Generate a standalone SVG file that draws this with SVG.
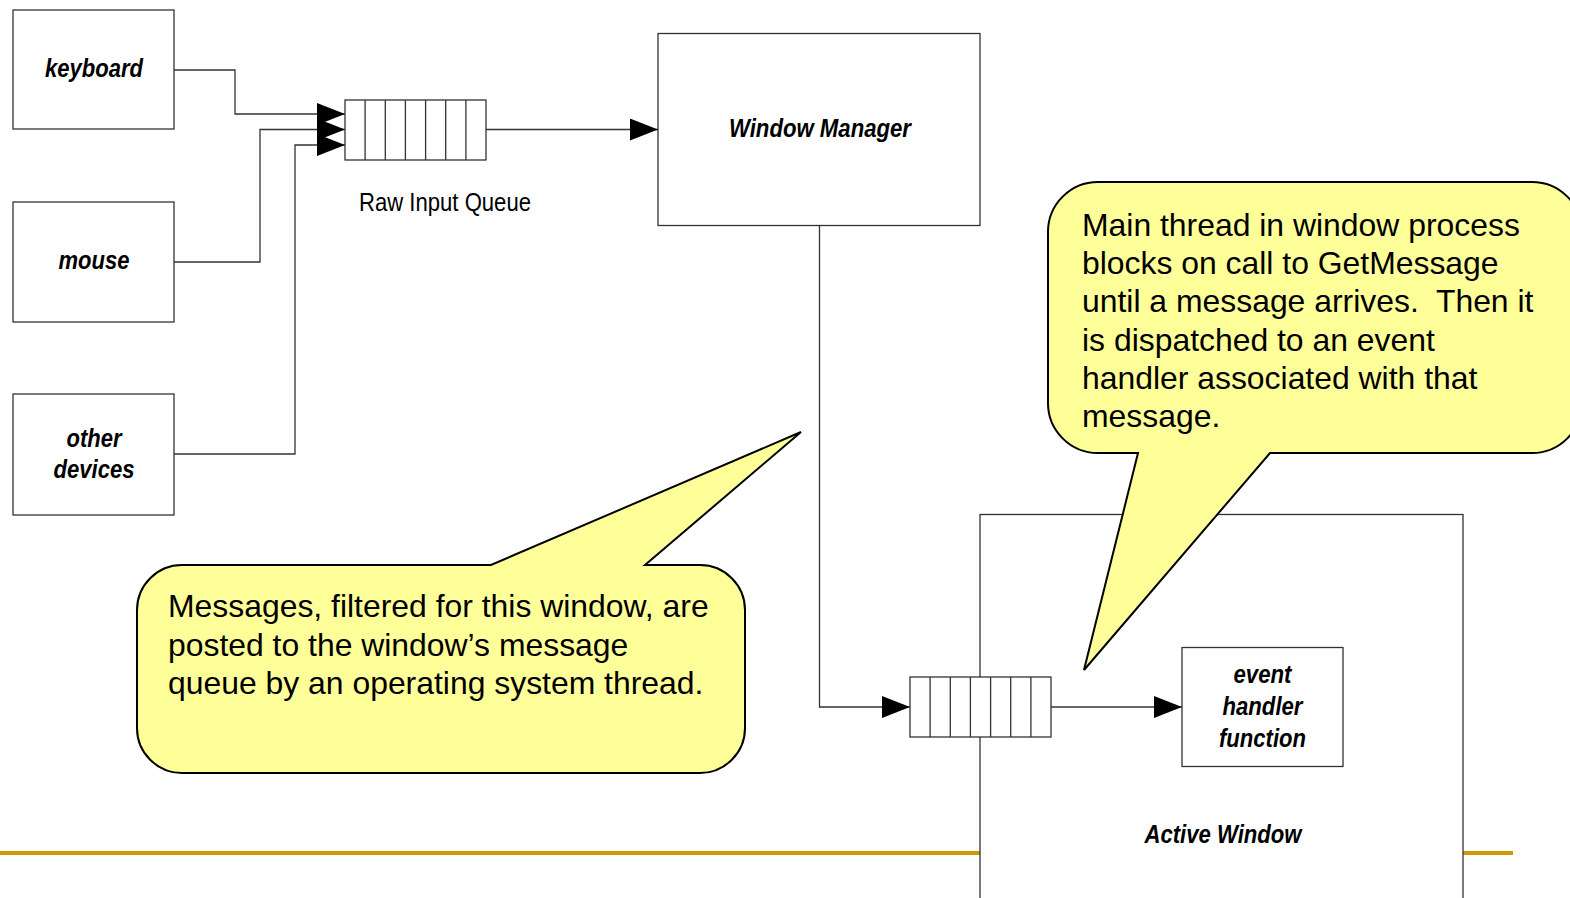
<svg xmlns="http://www.w3.org/2000/svg" width="1570" height="898" viewBox="0 0 1570 898">
<style>
.box{fill:#fff;stroke:#333;stroke-width:1.3}
.wire{fill:none;stroke:#333;stroke-width:1.3}
.lbl{font-family:"Liberation Sans",Arial,sans-serif;font-weight:bold;font-style:italic;font-size:26px;fill:#000;text-anchor:middle}
.plain{font-family:"Liberation Sans",Arial,sans-serif;font-size:26px;fill:#000;text-anchor:middle}
.note{font-family:"Liberation Sans",Arial,sans-serif;font-size:31.9px;fill:#000}
.callout{fill:#FFFF99;stroke:#000;stroke-width:2}
</style>
<defs>
<marker id="ah" markerUnits="userSpaceOnUse" markerWidth="28" markerHeight="22" refX="28" refY="11" orient="auto">
<path d="M0,0 L28,11 L0,22 Z" fill="#000"/>
</marker>
</defs>
<rect x="0" y="851" width="1513" height="4" fill="#CC9A06"/>
<g id="active-window">
<rect class="box" x="980" y="514.5" width="483" height="400"/>
<text class="lbl" x="1223" y="843" textLength="157" lengthAdjust="spacingAndGlyphs">Active Window</text>
</g>
<g id="keyboard">
<rect class="box" x="13" y="10" width="161" height="119"/>
<text class="lbl" x="94" y="77" textLength="98" lengthAdjust="spacingAndGlyphs">keyboard</text>
</g>
<g id="mouse">
<rect class="box" x="13" y="202" width="161" height="120"/>
<text class="lbl" x="94" y="269" textLength="71" lengthAdjust="spacingAndGlyphs">mouse</text>
</g>
<g id="other-devices">
<rect class="box" x="13" y="394" width="161" height="121"/>
<text class="lbl" x="94" y="447" textLength="55" lengthAdjust="spacingAndGlyphs">other</text>
<text class="lbl" x="94" y="478" textLength="81" lengthAdjust="spacingAndGlyphs">devices</text>
</g>
<g id="window-manager">
<rect class="box" x="658" y="33.5" width="322" height="192"/>
<text class="lbl" x="820" y="137" textLength="182" lengthAdjust="spacingAndGlyphs">Window Manager</text>
</g>
<g id="connectors">
<path class="wire" d="M174,70 H235 V114 H345" marker-end="url(#ah)"/>
<path class="wire" d="M174,262 H260 V129.5 H345" marker-end="url(#ah)"/>
<path class="wire" d="M174,454 H295 V145 H345" marker-end="url(#ah)"/>
<path class="wire" d="M486,129.5 H658" marker-end="url(#ah)"/>
<path class="wire" d="M819.5,225 V707 H910" marker-end="url(#ah)"/>
<path class="wire" d="M1051,707 H1182" marker-end="url(#ah)"/>
</g>
<g id="raw-input-queue">
<rect class="box" x="345" y="100" width="141" height="60"/>
<path class="wire" d="M365.1,100 V160 M385.3,100 V160 M405.4,100 V160 M425.6,100 V160 M445.7,100 V160 M465.9,100 V160"/>
<text class="plain" x="445" y="211" textLength="172" lengthAdjust="spacingAndGlyphs">Raw Input Queue</text>
</g>
<g id="message-queue">
<rect class="box" x="910" y="677" width="141" height="60"/>
<path class="wire" d="M930.1,677 V737 M950.3,677 V737 M970.4,677 V737 M990.6,677 V737 M1010.7,677 V737 M1030.9,677 V737"/>
</g>
<g id="event-handler">
<rect class="box" x="1182" y="647.5" width="161" height="119"/>
<text class="lbl" x="1262.5" y="683" textLength="58" lengthAdjust="spacingAndGlyphs">event</text>
<text class="lbl" x="1262.5" y="715" textLength="80" lengthAdjust="spacingAndGlyphs">handler</text>
<text class="lbl" x="1262.5" y="747" textLength="87" lengthAdjust="spacingAndGlyphs">function</text>
</g>
<g id="callout-queue">
<path class="callout" d="M182,565 L491,565 L801,432 L645,565 L700,565 A45,45 0 0 1 745,610 L745,728 A45,45 0 0 1 700,773 L182,773 A45,45 0 0 1 137,728 L137,610 A45,45 0 0 1 182,565 Z"/>
<text class="note" x="168" y="617">Messages, filtered for this window, are</text>
<text class="note" x="168" y="655.5">posted to the window’s message</text>
<text class="note" x="168" y="694">queue by an operating system thread.</text>
</g>
<g id="callout-thread">
<path class="callout" d="M1098,182 L1532,182 A50,50 0 0 1 1582,232 L1582,403 A50,50 0 0 1 1532,453 L1270,453 L1084,670 L1138,453 L1098,453 A50,50 0 0 1 1048,403 L1048,232 A50,50 0 0 1 1098,182 Z"/>
<text class="note" x="1082" y="236">Main thread in window process</text>
<text class="note" x="1082" y="274.2">blocks on call to GetMessage</text>
<text class="note" x="1082" y="312.4" xml:space="preserve">until a message arrives.  Then it</text>
<text class="note" x="1082" y="350.6">is dispatched to an event</text>
<text class="note" x="1082" y="388.8">handler associated with that</text>
<text class="note" x="1082" y="427">message.</text>
</g>
</svg>
